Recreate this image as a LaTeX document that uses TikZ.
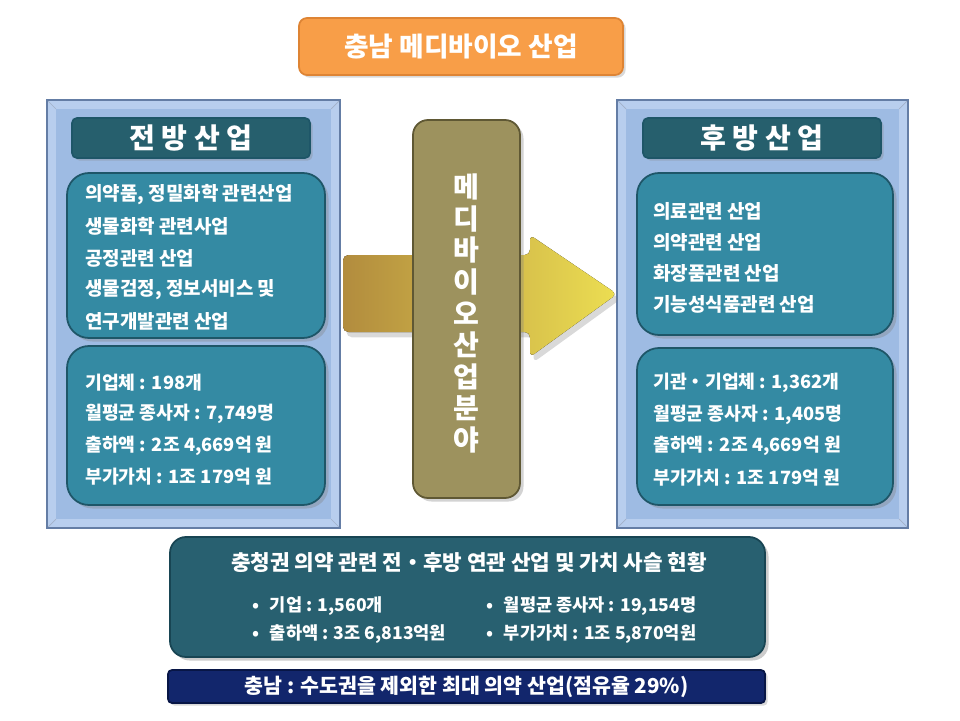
\documentclass[tikz,border=0pt]{standalone}
\usepackage{fontspec}
\setmainfont{Noto Sans CJK KR}
\usetikzlibrary{positioning,shadows,calc,fit}
\definecolor{sky}{RGB}{158,187,227}
\definecolor{skylite}{RGB}{184,206,238}
\definecolor{skyedge}{RGB}{100,125,165}
\definecolor{lagoon}{RGB}{52,138,163}
\definecolor{lagoondark}{RGB}{30,86,104}
\definecolor{deepteal}{RGB}{38,95,109}
\definecolor{tangerine}{RGB}{248,158,72}
\definecolor{khaki}{RGB}{157,146,94}
\definecolor{midnight}{RGB}{18,38,108}
\definecolor{ochre}{RGB}{178,140,62}
\definecolor{amber}{RGB}{214,166,66}
\definecolor{lemon}{RGB}{236,222,82}

\begin{document}
\begin{tikzpicture}[x=0.02cm,y=-0.02cm,
    card/.style={draw=lagoondark,line width=1pt,fill=lagoon,rounded corners=0.44cm,inner sep=0,
      drop shadow={opacity=0.35,shadow xshift=2pt,shadow yshift=-2pt}},
    headbox/.style={draw=lagoondark,line width=1pt,fill=deepteal,rounded corners=0.1cm,inner sep=0,
      drop shadow={opacity=0.3,shadow xshift=1.5pt,shadow yshift=-1.5pt}},
    headtxt/.style={text=white,font=\fontsize{16}{18}\selectfont\bfseries},
    txt/.style={text=white,font=\fontsize{10.8}{12}\selectfont\bfseries,anchor=west,inner sep=0},
    stattxt/.style={txt,font=\fontsize{10.4}{12}\selectfont\bfseries}]
  \useasboundingbox (0,0) rectangle (960,720);

  % title
  \node[draw={rgb,255:red,222;green,132;blue,52},line width=1pt,fill=tangerine,rounded corners=0.16cm,inner sep=0,
    drop shadow={opacity=0.3,shadow xshift=1.5pt,shadow yshift=-1.5pt},fit={(299,18) (623,75)},
    label={[text=white,font=\fontsize{15.2}{17}\selectfont\bfseries]center:충남 메디바이오 산업}] (title) {};

  % side panels
  \foreach \n/\xa/\xb in {fwd/47/340,bwd/617/908} {
    \fill[skylite] (\xa,100) rectangle (\xb,528);
    \fill[sky] (\xa+9,109) rectangle (\xb-9,519);
    \draw[skyedge!60] (\xa,100) -- (\xa+9,109) (\xb,100) -- (\xb-9,109)
      (\xa,528) -- (\xa+9,519) (\xb,528) -- (\xb-9,519);
    \node[draw=skyedge,line width=1pt,fit={(\xa,100) (\xb,528)},inner sep=0] (\n) {};
  }

  % arrow and middle
  \fill[left color=ochre,middle color=amber,right color=lemon,rounded corners=3pt,
    drop shadow={opacity=0.3,shadow xshift=2pt,shadow yshift=-3pt}]
    (343,255) -- (530,255) -- (530,235) -- (617,294) -- (530,357) -- (530,332) -- (343,332) -- cycle;
  \node[draw={rgb,255:red,95;green,88;blue,52},line width=1pt,fill=khaki,rounded corners=0.3cm,inner sep=0,
    drop shadow={opacity=0.35,shadow xshift=2pt,shadow yshift=-2pt},fit={(413,120) (520,498)}] (mid) {};
  \foreach \c [count=\i] in {메,디,바,이,오,산,업,분,야}
    \node[headtxt] (v\i) at (466.5,155.4+31.6*\i) {\c};

  % forward industry
  \node[headbox,fit={(72,118) (310,158)},label={[headtxt]center:전 방 산 업}] (fwdhead) {};
  \node[card,fit={(67,173) (325,338)}] (fwdlist) {};
  \node[card,fit={(67,346) (325,505)}] (fwdstat) {};
  \foreach \t [count=\i] in {{의약품, 정밀화학 관련산업},{생물화학 관련사업},{공정관련 산업},
      {생물검정, 정보서비스 및},{연구개발관련 산업}}
    \node[txt] (fl\i) at (85,163.5+31.5*\i) {\t};
  \foreach \t [count=\i] in {{기업체 : 198개},{월평균 종사자 : 7,749명},{출하액 : 2조 4,669억 원},
      {부가가치 : 1조 179억 원}}
    \node[stattxt] (fs\i) at (85,351.7+31.3*\i) {\t};

  % backward industry
  \node[headbox,fit={(643,118) (881,158)},label={[headtxt]center:후 방 산 업}] (bwdhead) {};
  \node[card,fit={(637,173) (893,335)}] (bwdlist) {};
  \node[card,fit={(637,348) (893,505)}] (bwdstat) {};
  \foreach \t [count=\i] in {{의료관련 산업},{의약관련 산업},{화장품관련 산업},{기능성식품관련 산업}}
    \node[txt] (bl\i) at (653,180+31*\i) {\t};
  \foreach \t [count=\i] in {{기관・기업체 : 1,362개},{월평균 종사자 : 1,405명},{출하액 : 2조 4,669억 원},
      {부가가치 : 1조 179억 원}}
    \node[stattxt] (bs\i) at (653,352+31.3*\i) {\t};

  % summary
  \node[draw=lagoondark!80!black,line width=1pt,fill={rgb,255:red,40;green,96;blue,112},rounded corners=0.32cm,inner sep=0,
    drop shadow={opacity=0.4,shadow xshift=2pt,shadow yshift=-2pt},fit={(170,537) (765,657)}] (sum) {};
  \node[text=white,font=\fontsize{12.1}{14}\selectfont\bfseries] (sumt) at (469,562)
    {충청권 의약 관련 전・후방 연관 산업 및 가치 사슬 현황};
  \foreach \t/\x/\y [count=\i] in {{기업 : 1,560개}/252/606,{출하액 : 3조 6,813억원}/252/634,
      {월평균 종사자 : 19,154명}/486/606,{부가가치 : 1조 5,870억원}/486/634}
    \node[txt,font=\fontsize{10}{12}\selectfont\bfseries] (s\i) at (\x,\y) {•\hspace{0.6em}\t};

  % note bar
  \node[draw={rgb,255:red,8;green,22;blue,70},line width=1pt,fill=midnight,rounded corners=0.08cm,inner sep=0,
    drop shadow={opacity=0.3,shadow xshift=1.5pt,shadow yshift=-1.5pt},fit={(168,670) (765,703)},
    label={[text=white,font=\fontsize{11.7}{13}\selectfont\bfseries]center:충남 : 수도권을 제외한 최대 의약 산업(점유율 29\%)}] (note) {};
\end{tikzpicture}
\end{document}
